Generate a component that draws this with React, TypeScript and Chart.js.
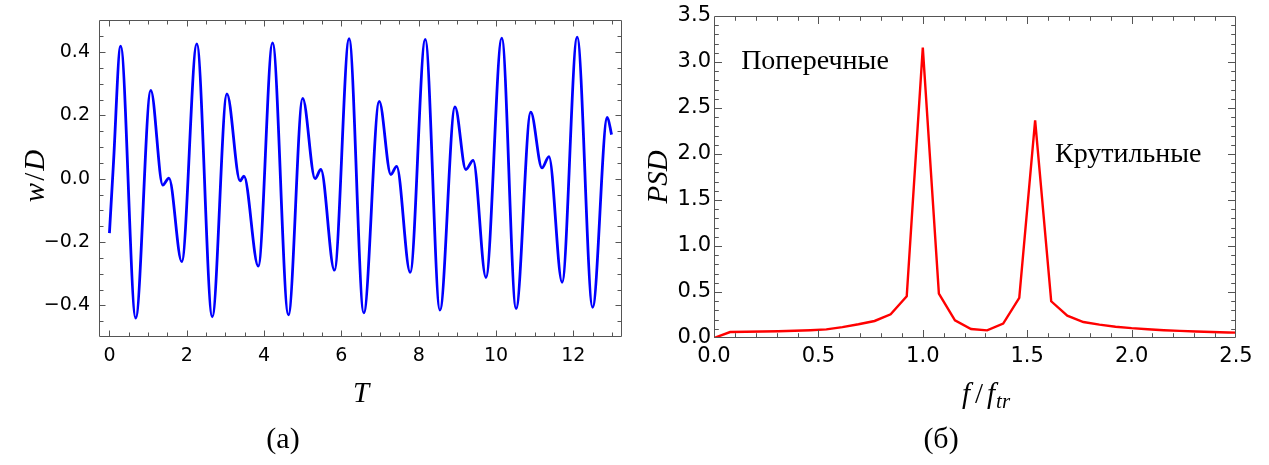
import React, { useEffect, useRef } from 'react';
import { Chart, registerables } from 'chart.js';

Chart.register(...registerables);

// ---- Panel (a): time series w/D vs T ----
const timeT = [0.0, 0.1, 0.29, 0.68, 1.07, 1.38, 1.54, 1.87, 2.26, 2.66, 3.04, 3.38, 3.48, 3.85, 4.22, 4.63, 5.0, 5.32, 5.47, 5.82, 6.2, 6.58, 6.98, 7.28, 7.43, 7.78, 8.17, 8.55, 8.94, 9.22, 9.41, 9.74, 10.15, 10.52, 10.9, 11.19, 11.37, 11.71, 12.1, 12.5, 12.88, 12.99];
const waveW = [-0.172, 0.04, 0.419, -0.44, 0.279, -0.02, 0.002, -0.262, 0.426, -0.436, 0.268, -0.007, 0.008, -0.276, 0.429, -0.43, 0.254, 0.0, 0.029, -0.289, 0.442, -0.424, 0.244, 0.013, 0.039, -0.296, 0.44, -0.415, 0.227, 0.029, 0.058, -0.312, 0.444, -0.41, 0.21, 0.034, 0.07, -0.327, 0.447, -0.406, 0.194, 0.139];
const xTicksA = [0, 2, 4, 6, 8, 10, 12];
const yTicksA = [-0.4, -0.2, 0.0, 0.2, 0.4];

// ---- Panel (б): PSD vs f/f_tr ----
const freqF = [0, 0.077, 0.154, 0.231, 0.308, 0.385, 0.462, 0.538, 0.615, 0.692, 0.769, 0.846, 0.923, 1.0, 1.077, 1.154, 1.231, 1.308, 1.385, 1.462, 1.538, 1.615, 1.692, 1.769, 1.846, 1.923, 2.0, 2.077, 2.154, 2.231, 2.308, 2.385, 2.462, 2.538];
const psdP = [0.0, 0.065, 0.068, 0.071, 0.074, 0.079, 0.085, 0.094, 0.118, 0.149, 0.185, 0.257, 0.453, 3.156, 0.482, 0.192, 0.098, 0.083, 0.156, 0.435, 2.366, 0.399, 0.243, 0.174, 0.145, 0.123, 0.107, 0.095, 0.085, 0.077, 0.071, 0.066, 0.06, 0.056];
const xTicksB = [0, 0.5, 1.0, 1.5, 2.0, 2.5];
const yTicksB = [0, 0.5, 1.0, 1.5, 2.0, 2.5, 3.0, 3.5];
const annotations = [
  { text: 'Поперечные', f: 0.13, p: 3.0 },
  { text: 'Крутильные', f: 1.633, p: 1.99 },
];

const FRAME = '#555555';
const SANS = '"DejaVu Sans", "Liberation Sans", Arial, sans-serif';
const SERIF = '"Liberation Serif", "Times New Roman", serif';

type FrameCfg = {
  xMinor: number; yMinor: number;
  majLen: number; minLen: number;
  draw: (ctx: CanvasRenderingContext2D, chart: any) => void;
};

function framePlugin(cfg: FrameCfg) {
  return {
    id: 'mmaFrame',
    afterDraw(chart: any) {
      const { ctx, chartArea: a, scales } = chart;
      const x = scales.x, y = scales.y;
      ctx.save();
      ctx.strokeStyle = FRAME;
      ctx.lineWidth = 1;
      const L = Math.round(a.left) + 0.5, R = Math.round(a.right) - 0.5;
      const T = Math.round(a.top) + 0.5, B = Math.round(a.bottom) - 0.5;
      ctx.beginPath();
      ctx.rect(L, T, R - L, B - T);
      ctx.stroke();
      const isMajor = (v: number, list: number[]) => list.some((m) => Math.abs(m - v) < 1e-6);
      const xMaj = x.ticks.map((t: any) => t.value);
      const yMaj = y.ticks.map((t: any) => t.value);
      ctx.beginPath();
      const xs = Math.ceil(x.min / cfg.xMinor - 1e-9);
      const xe = Math.floor(x.max / cfg.xMinor + 1e-9);
      for (let i = xs; i <= xe; i++) {
        const v = i * cfg.xMinor;
        const len = isMajor(v, xMaj) ? cfg.majLen : cfg.minLen;
        const px = Math.round(x.getPixelForValue(v)) + 0.5;
        if (px <= L + 1 || px >= R - 1) continue;
        ctx.moveTo(px, B); ctx.lineTo(px, B - len);
        ctx.moveTo(px, T); ctx.lineTo(px, T + len);
      }
      const ys = Math.ceil(y.min / cfg.yMinor - 1e-9);
      const ye = Math.floor(y.max / cfg.yMinor + 1e-9);
      for (let i = ys; i <= ye; i++) {
        const v = i * cfg.yMinor;
        const len = isMajor(v, yMaj) ? cfg.majLen : cfg.minLen;
        const py = Math.round(y.getPixelForValue(v)) + 0.5;
        if (py <= T + 1 || py >= B - 1) continue;
        ctx.moveTo(L, py); ctx.lineTo(L + len, py);
        ctx.moveTo(R, py); ctx.lineTo(R - len, py);
      }
      ctx.stroke();
      ctx.restore();
      ctx.save();
      cfg.draw(ctx, chart);
      ctx.restore();
    },
  };
}

const fmt1 = (v: number) => {
  const s = Math.abs(v) < 1e-9 ? '0.0' : Math.abs(v).toFixed(1);
  return v < -1e-9 ? '\u2212' + s : s;
};

// draw pieces of an italic math label in sequence, centred at (cx, cy)
function drawPieces(ctx: CanvasRenderingContext2D, pieces: { t: string; font: string; dy?: number; gap?: number }[], cx: number, cy: number) {
  let total = 0;
  pieces.forEach((p) => { ctx.font = p.font; total += ctx.measureText(p.t).width + (p.gap || 0); });
  let x = cx - total / 2;
  ctx.textAlign = 'left';
  ctx.textBaseline = 'alphabetic';
  pieces.forEach((p) => {
    ctx.font = p.font;
    ctx.fillText(p.t, x, cy + (p.dy || 0));
    x += ctx.measureText(p.t).width + (p.gap || 0);
  });
}

function ChartA() {
  const ref = useRef<HTMLCanvasElement>(null);
  useEffect(() => {
    const chart = new Chart(ref.current as HTMLCanvasElement, {
      type: 'line',
      data: {
        datasets: [{
          data: timeT.map((t, i) => ({ x: t, y: waveW[i] })),
          borderColor: '#0000ff',
          borderWidth: 2.8,
          pointRadius: 0,
          fill: false,
          cubicInterpolationMode: 'monotone',
        }],
      },
      options: {
        animation: false,
        responsive: false,
        events: [],
        layout: { padding: { left: 0, top: 14, right: 18, bottom: 0 } },
        plugins: { legend: { display: false }, tooltip: { enabled: false } },
        scales: {
          x: {
            type: 'linear', min: -0.27, max: 13.26,
            grid: { display: false, drawTicks: false }, border: { display: false },
            afterBuildTicks: (s: any) => { s.ticks = xTicksA.map((v) => ({ value: v })); },
            afterFit: (s: any) => { s.height = 128; },
            ticks: { padding: 8, color: '#000', font: { family: SANS, size: 19 }, maxRotation: 0, autoSkip: false, callback: (v: any) => String(v) },
          },
          y: {
            type: 'linear', min: -0.5, max: 0.5,
            grid: { display: false, drawTicks: false }, border: { display: false },
            afterBuildTicks: (s: any) => { s.ticks = yTicksA.map((v) => ({ value: v })); },
            afterFit: (s: any) => { s.width = 99; },
            ticks: { padding: 9, color: '#000', font: { family: SANS, size: 19 }, autoSkip: false, callback: (v: any) => fmt1(Number(v)) },
          },
        },
      },
      plugins: [framePlugin({
        xMinor: 0.5, yMinor: 0.05, majLen: 6, minLen: 4,
        draw: (ctx) => {
          ctx.fillStyle = '#000';
          const it = 'italic 29px ' + SERIF;
          drawPieces(ctx, [{ t: 'T', font: it }], 361, 402);
          ctx.save();
          ctx.translate(44, 176);
          ctx.rotate(-Math.PI / 2);
          drawPieces(ctx, [{ t: 'w', font: it, gap: 2 }, { t: '/', font: '29px ' + SERIF, gap: 2 }, { t: 'D', font: it }], 0, 0);
          ctx.restore();
          ctx.textAlign = 'center';
          ctx.textBaseline = 'middle';
          ctx.font = '30px ' + SERIF;
          ctx.fillText('(a)', 283, 440);
        },
      })],
    } as any);
    return () => chart.destroy();
  }, []);
  return <canvas ref={ref} width={640} height={465} style={{ position: 'absolute', left: 0, top: 0, width: 640, height: 465 }} />;
}

function ChartB() {
  const ref = useRef<HTMLCanvasElement>(null);
  useEffect(() => {
    const chart = new Chart(ref.current as HTMLCanvasElement, {
      type: 'line',
      data: {
        datasets: [{
          data: freqF.map((f, i) => ({ x: f, y: psdP[i] })),
          borderColor: '#ff0000',
          borderWidth: 2.4,
          pointRadius: 0,
          fill: false,
          tension: 0,
        }],
      },
      options: {
        animation: false,
        responsive: false,
        events: [],
        layout: { padding: { left: 0, top: 16, right: 33, bottom: 0 } },
        plugins: { legend: { display: false }, tooltip: { enabled: false } },
        scales: {
          x: {
            type: 'linear', min: 0, max: 2.5,
            grid: { display: false, drawTicks: false }, border: { display: false },
            afterBuildTicks: (s: any) => { s.ticks = xTicksB.map((v) => ({ value: v })); },
            afterFit: (s: any) => { s.height = 127; },
            ticks: { padding: 6, color: '#000', font: { family: SANS, size: 21 }, maxRotation: 0, autoSkip: false, callback: (v: any) => fmt1(Number(v)) },
          },
          y: {
            type: 'linear', min: 0, max: 3.5,
            grid: { display: false, drawTicks: false }, border: { display: false },
            afterBuildTicks: (s: any) => { s.ticks = yTicksB.map((v) => ({ value: v })); },
            afterFit: (s: any) => { s.width = 74; },
            ticks: { padding: 3, color: '#000', font: { family: SANS, size: 21 }, autoSkip: false, callback: (v: any) => fmt1(Number(v)) },
          },
        },
      },
      plugins: [framePlugin({
        xMinor: 0.1, yMinor: 0.1, majLen: 7.5, minLen: 4.3,
        draw: (ctx, ch) => {
          const x = ch.scales.x, y = ch.scales.y;
          ctx.fillStyle = '#000';
          ctx.textBaseline = 'middle';
          ctx.textAlign = 'left';
          ctx.font = '28px ' + SERIF;
          annotations.forEach((a) => ctx.fillText(a.text, x.getPixelForValue(a.f), y.getPixelForValue(a.p)));
          const it = 'italic 29px ' + SERIF;
          ctx.save();
          ctx.translate(27, 177);
          ctx.rotate(-Math.PI / 2);
          drawPieces(ctx, [{ t: 'P', font: it }, { t: 'S', font: it }, { t: 'D', font: it }], 0, 0);
          ctx.restore();
          drawPieces(ctx, [
            { t: 'f', font: it, gap: 5 },
            { t: '/', font: '29px ' + SERIF, gap: 4 },
            { t: 'f', font: it, gap: 1 },
            { t: 'tr', font: 'italic 21px ' + SERIF, dy: 5 },
          ], 346, 403);
          ctx.textAlign = 'center';
          ctx.textBaseline = 'middle';
          ctx.font = '30px ' + SERIF;
          ctx.fillText('(б)', 301, 440);
        },
      })],
    } as any);
    return () => chart.destroy();
  }, []);
  return <canvas ref={ref} width={629} height={465} style={{ position: 'absolute', left: 640, top: 0, width: 629, height: 465 }} />;
}

export default function App() {
  return (
    <div style={{ position: 'absolute', left: 0, top: 0, width: 1269, height: 465, background: '#fff' }}>
      <ChartA />
      <ChartB />
    </div>
  );
}
